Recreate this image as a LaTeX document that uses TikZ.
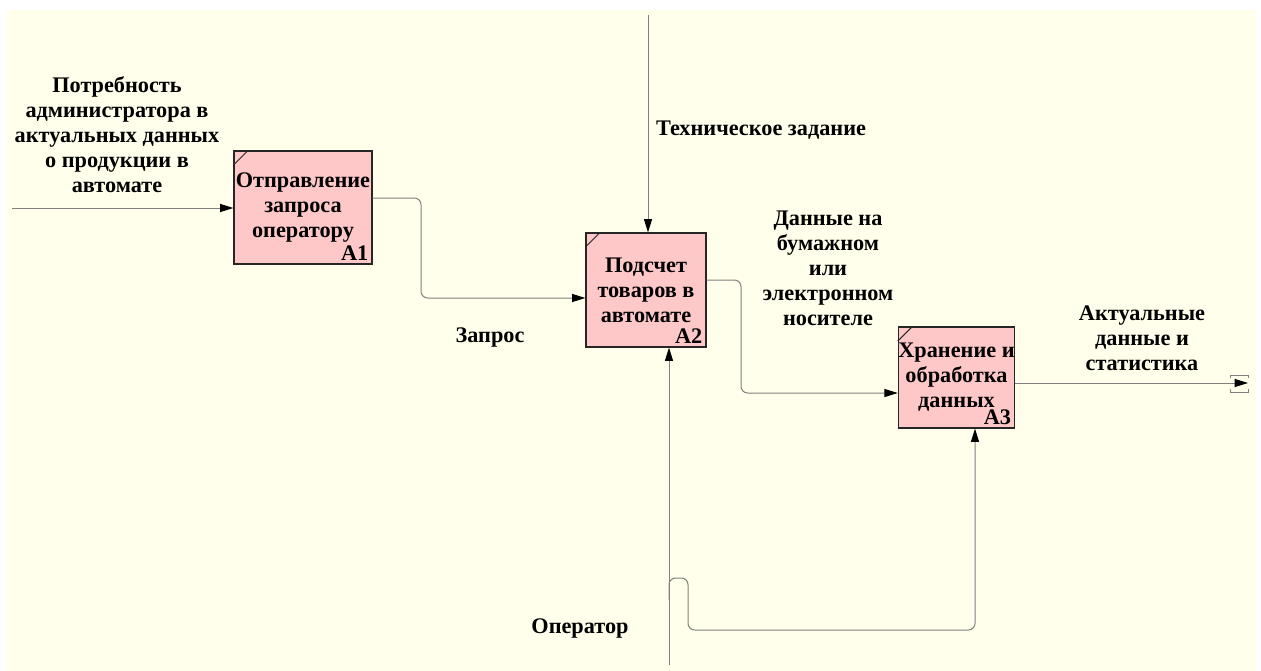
\documentclass[tikz,border=0pt]{standalone}
\usepackage{fontspec}
\setmainfont{Liberation Serif}
\usetikzlibrary{arrows.meta,calc}
\definecolor{bgc}{RGB}{255,255,235}
\definecolor{boxfill}{RGB}{255,200,200}
\definecolor{linec}{RGB}{128,128,128}
\begin{document}
\begin{tikzpicture}[x=0.75pt,y=-0.75pt,
  txt/.style={align=center, inner sep=0pt, font=\bfseries\fontsize{16.7}{18.75}\selectfont},
  func/.style={txt, draw=black!85, fill=boxfill, line width=0.9pt},
  num/.style={inner sep=0pt, font=\bfseries\fontsize{16.7}{18}\selectfont},
  conn/.style={draw=linec, line width=0.75pt, rounded corners=5pt},
  arr/.style={conn, -{Triangle[length=10pt,width=6pt,color=black]}},
]
\useasboundingbox (0,0) rectangle (1261,671);
\fill[white] (0,0) rectangle (1261,671);
\fill[bgc] (7,10) rectangle (1256,671);

% function boxes
\node[func, minimum width=103.5pt, minimum height=84.75pt] (A1) at (303,207.5) {Отправление\\запроса\\оператору};
\node[func, minimum width=90pt, minimum height=85.5pt] (A2) at (646,290) {Подсчет\\товаров в\\автомате};
\node[func, minimum width=84.75pt, minimum height=75.75pt] (A3) at (956.5,377.5) {Хранение и\\обработка\\данных};

\node[num, anchor=south east] (n1) at ([xshift=-3pt,yshift=3pt]A1.south east) {A1};
\node[num, anchor=south east] (n2) at ([xshift=-3pt,yshift=3pt]A2.south east) {A2};
\node[num, anchor=south east] (n3) at ([xshift=-3pt,yshift=3pt]A3.south east) {A3};

\foreach \b in {A1,A2,A3}{
  \draw[black!85, line width=0.75pt] ([yshift=-11pt]\b.north west) -- ([xshift=11pt]\b.north west);
}

% free ends
\coordinate (in1) at (12,208);
\coordinate (ctl) at (648,15);
\coordinate (mech) at (669,665);
\coordinate (out) at (1248,383);

% connectors
\draw[arr] (in1) -- (A1.west |- in1);
\draw[arr] (A1.east |- 0,198) -- (421,198) -- (421,298) -- (A2.west |- 0,298);
\draw[arr] (ctl) -- (ctl |- A2.north);
\draw[arr] (A2.east |- 0,280) -- (741,280) -- (741,393) -- (A3.west |- 0,393);
\draw[arr] (mech) -- (mech |- A2.south);
\draw[arr] (669,600) -- (669,578) -- (688,578) -- (688,630) -- (975,630) -- (975,0 |- A3.south);
\draw[arr] (A3.east |- out) -- (out);

% tunnel brackets
\draw[linec, line width=0.6pt] (1230,378) -- (1230,375) -- (1248,375) -- (1248,378);
\draw[linec, line width=0.6pt] (1230,389) -- (1230,392) -- (1248,392) -- (1248,389);

% labels
\node[txt] (l1) at (117,135) {Потребность\\администратора в\\актуальных данных\\о продукции в\\автомате};
\node[txt] (l2) at (490,337) {Запрос};
\node[txt] (l3) at (761,130) {Техническое задание};
\node[txt] (l4) at (828,268) {Данные на\\бумажном\\или\\электронном\\носителе};
\node[txt] (l5) at (1142,338) {Актуальные\\данные и\\статистика};
\node[txt] (l6) at (580,628) {Оператор};
\end{tikzpicture}
\end{document}
